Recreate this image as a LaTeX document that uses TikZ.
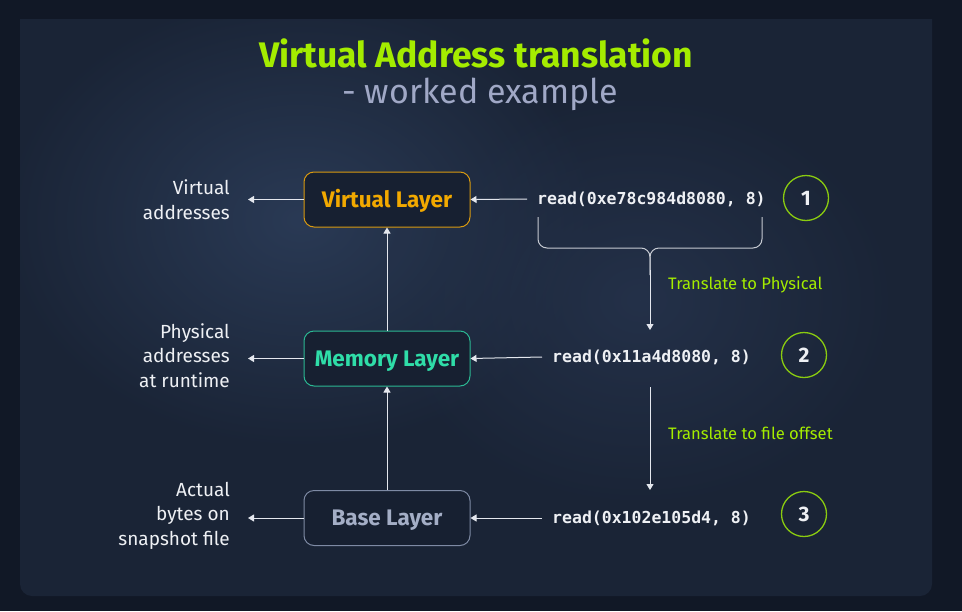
\documentclass[tikz,border=0pt]{standalone}
\usepackage{fontspec}
\setmainfont{Fira Sans}
\setmonofont{DejaVu Sans Mono}
\usetikzlibrary{arrows.meta,fadings}
\tikzfading[name=glowfade, inner color=transparent!0, outer color=transparent!100]
\definecolor{outerbg}{HTML}{111826}
\definecolor{panel}{HTML}{1A2436}
\definecolor{glow}{HTML}{2A3A55}
\definecolor{lime}{HTML}{A4EC00}
\definecolor{subt}{HTML}{A0A8C6}
\definecolor{orng}{HTML}{F2A900}
\definecolor{orngb}{HTML}{D99A10}
\definecolor{teal}{HTML}{2FDDA8}
\definecolor{tealb}{HTML}{2BB893}
\definecolor{basec}{HTML}{A4AEC6}
\definecolor{baseb}{HTML}{7E8AA4}
\definecolor{wtext}{HTML}{EEF0F4}
\definecolor{wline}{HTML}{E4E7EE}
\definecolor{ringc}{HTML}{8ACB10}
\tikzset{
  layer/.style={draw, line width=1pt, rounded corners=10pt, minimum width=166pt, minimum height=55pt, text height=15.5pt, text depth=0pt, font=\fontsize{22.5}{26}\selectfont\bfseries, fill=panel!90!black},
  sidelab/.style={anchor=east, align=right, text=wtext, font=\fontsize{19}{24.5}\selectfont, inner sep=0pt},
  readtxt/.style={anchor=west, text=wtext, font=\fontsize{16.5}{19}\selectfont\ttfamily\bfseries, inner sep=0pt},
  arr/.style={draw=wline, line width=1pt, -{Triangle[width=7pt,length=6pt]}},
  ring/.style={circle, draw=ringc, line width=1.3pt, minimum size=45pt, text height=14.5pt, text depth=0pt, text=wtext, font=\fontsize{21}{24}\selectfont\bfseries},
  translab/.style={anchor=west, text=lime, font=\fontsize{16.6}{19}\selectfont, inner sep=0pt}
}
\begin{document}
\begin{tikzpicture}[x=1pt,y=-1pt]
\useasboundingbox (0,0) rectangle (962,611);
\fill[outerbg] (0,0) rectangle (962,611);
\fill[panel] (20,60) -- (20,19) -- (932,19) -- (932,60) [rounded corners=12pt] -- (932,596) -- (20,596) [sharp corners] -- (20,60) -- cycle;
\begin{scope}
\clip (20,19) rectangle (932,596);
\fill[glow, path fading=glowfade] (300,220) ellipse (300 and 230);
\fill[glow!60!panel, path fading=glowfade] (640,300) ellipse (260 and 210);
\end{scope}

\node[text=lime, font=\fontsize{35.5}{40}\selectfont\bfseries] (title) at (476,53) {Virtual Address translation};
\node[text=subt, font=\fontsize{34}{38}\selectfont] (sub) at (480,94) {- worked example};

\node[layer, draw=orngb, text=orng] (vl) at (387,199.5) {Virtual Layer};
\node[layer, draw=tealb, text=teal] (ml) at (387,358.5) {Memory Layer};
\node[layer, draw=baseb, text=basec] (bl) at (387,518) {Base Layer};

\node[sidelab] (vlab) at (230,199.5) {Virtual\\addresses};
\node[sidelab] (mlab) at (230,355.5) {Physical\\addresses\\at runtime};
\node[sidelab] (blab) at (230,515.5) {Actual\\bytes on\\snapshot file};

\coordinate (va) at (248,199.5);
\coordinate (ma) at (248,358.5);
\coordinate (ba) at (248,518);
\draw[arr] (vl.west) -- (va);
\draw[arr] (ml.west) -- (ma);
\draw[arr] (bl.west) -- (ba);
\draw[arr] (ml.north) -- (vl.south);
\draw[arr] (bl.north) -- (ml.south);

\node[readtxt] (r1) at (537,199) {read(0xe78c984d8080, 8)};
\node[readtxt] (r2) at (552,357) {read(0x11a4d8080, 8)};
\node[readtxt] (r3) at (552,518) {read(0x102e105d4, 8)};

\draw[arr] ([xshift=-10pt]r1.west) -- (vl.east);
\draw[arr] ([xshift=-10pt]r2.west) -- (ml.east);
\draw[arr] ([xshift=-10pt]r3.west) -- (bl.east);

\node[ring] (c1) at (806,198) {1};
\node[ring] (c2) at (804,355) {2};
\node[ring] (c3) at (804,514) {3};

\coordinate (bL) at (538,217);
\coordinate (bR) at (762,217);
\coordinate (bM) at (650,248);
\coordinate (bT) at (650,330);
\draw[wline!85!panel, line width=1pt, rounded corners=9pt] (bL) -- (538,248) -- (bM) -- (650,275);
\draw[wline!85!panel, line width=1pt, rounded corners=9pt] (bR) -- (762,248) -- (bM) -- (650,275);
\draw[arr] (650,270) -- (bT);
\node[translab] (t1) at (668,285) {Translate to Physical};

\coordinate (s2) at (650,387);
\coordinate (e2) at (650,490);
\draw[arr] (s2) -- (e2);
\node[translab] (t2) at (668,433) {Translate to file offset};
\end{tikzpicture}
\end{document}
